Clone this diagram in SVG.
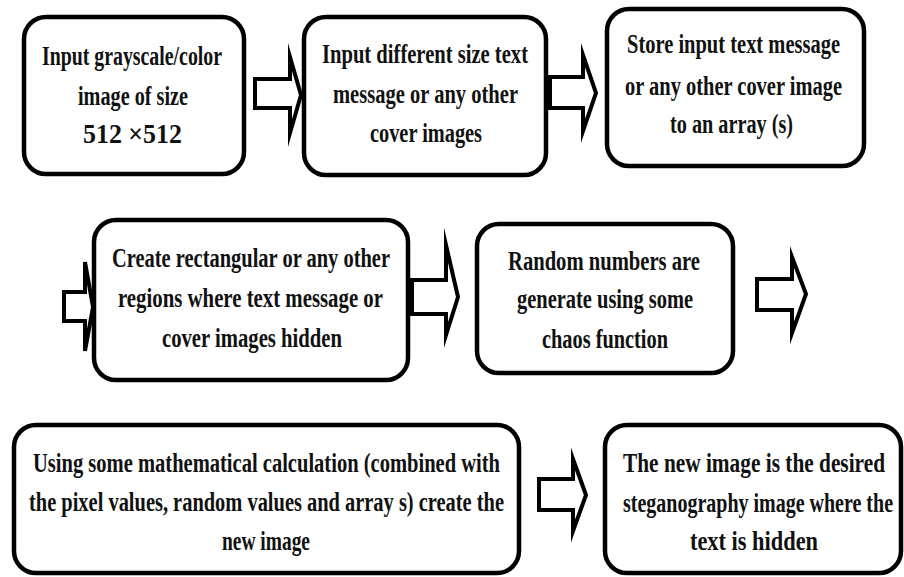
<svg xmlns="http://www.w3.org/2000/svg" width="904" height="577" viewBox="0 0 904 577">
<style>
.box{fill:#fff;stroke:#000;stroke-width:4.5}
.arr{fill:#fff;stroke:#000;stroke-width:4;stroke-linejoin:miter;stroke-miterlimit:10}
.t{font-family:'Liberation Serif','DejaVu Serif','Times New Roman',serif;font-weight:700;font-size:28px;fill:#111}
</style>
<rect width="904" height="577" fill="#fff"/>
<g id="connectors">
<polygon class="arr" points="255,79 290,79 290,57 301,95 290,133 290,108 255,108"/>
<polygon class="arr" points="550,77 583,77 583,55 596,93 583,131 583,108 550,108"/>
<polygon class="arr" points="64,292 85,292 85,262 93,307 85,351 85,321 64,321"/>
<polygon class="arr" points="412,280 446,280 446,245 458,297 446,335 446,314 412,314"/>
<polygon class="arr" points="757,279 792,279 792,257 806,294 792,333 792,310 757,310"/>
<polygon class="arr" points="539,479 573,479 573,459 586,495 573,531 573,510 539,510"/>
</g>
<g id="n1" class="t">
<rect class="box" x="24" y="17" width="220" height="157" rx="22"/>
<text x="42" y="65" textLength="180" lengthAdjust="spacingAndGlyphs">Input grayscale/color</text>
<text x="78" y="105" textLength="110" lengthAdjust="spacingAndGlyphs">image of size</text>
<text x="83" y="143" textLength="99" lengthAdjust="spacingAndGlyphs">512 ×512</text>
</g>
<g id="n2" class="t">
<rect class="box" x="304" y="17" width="242" height="158" rx="22"/>
<text x="322" y="63" textLength="206" lengthAdjust="spacingAndGlyphs">Input different size text</text>
<text x="333" y="103" textLength="185" lengthAdjust="spacingAndGlyphs">message or any other</text>
<text x="370" y="142" textLength="112" lengthAdjust="spacingAndGlyphs">cover images</text>
</g>
<g id="n3" class="t">
<rect class="box" x="607" y="9" width="257" height="157" rx="22"/>
<text x="627" y="53" textLength="213" lengthAdjust="spacingAndGlyphs">Store input text message</text>
<text x="625" y="95" textLength="217" lengthAdjust="spacingAndGlyphs">or any other cover image</text>
<text x="670" y="133" textLength="123" lengthAdjust="spacingAndGlyphs">to an array (s)</text>
</g>
<g id="n4" class="t">
<rect class="box" x="94" y="220" width="314" height="160" rx="22"/>
<text x="112" y="267" textLength="278" lengthAdjust="spacingAndGlyphs">Create rectangular or any other</text>
<text x="118" y="307" textLength="265" lengthAdjust="spacingAndGlyphs">regions where text message or</text>
<text x="162" y="347" textLength="180" lengthAdjust="spacingAndGlyphs">cover images hidden</text>
</g>
<g id="n5" class="t">
<rect class="box" x="477" y="224" width="256" height="149" rx="22"/>
<text x="508" y="270" textLength="192" lengthAdjust="spacingAndGlyphs">Random numbers are</text>
<text x="517" y="308" textLength="176" lengthAdjust="spacingAndGlyphs">generate using some</text>
<text x="542" y="348" textLength="126" lengthAdjust="spacingAndGlyphs">chaos function</text>
</g>
<g id="n6" class="t">
<rect class="box" x="14" y="425" width="505" height="148" rx="22"/>
<text x="33" y="472" textLength="467" lengthAdjust="spacingAndGlyphs">Using some mathematical calculation (combined with</text>
<text x="29" y="511" textLength="475" lengthAdjust="spacingAndGlyphs">the pixel values, random values and array s) create the</text>
<text x="222" y="550" textLength="88" lengthAdjust="spacingAndGlyphs">new image</text>
</g>
<g id="n7" class="t">
<rect class="box" x="605" y="425" width="296" height="148" rx="22"/>
<text x="623" y="472" textLength="262" lengthAdjust="spacingAndGlyphs">The new image is the desired</text>
<text x="623" y="512" textLength="270" lengthAdjust="spacingAndGlyphs">steganography image where the</text>
<text x="690" y="550" textLength="128" lengthAdjust="spacingAndGlyphs">text is hidden</text>
</g>
</svg>
